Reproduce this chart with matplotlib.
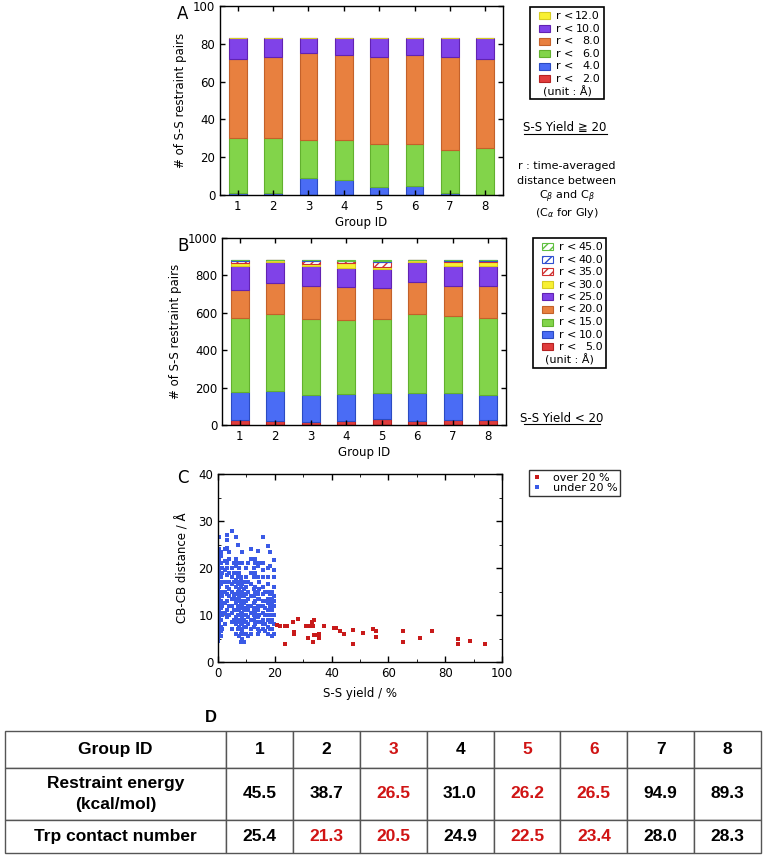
import matplotlib
matplotlib.use("Agg")
import matplotlib.pyplot as plt
from matplotlib.patches import Rectangle
from matplotlib.lines import Line2D

plt.rcParams['font.family'] = ['DejaVu Sans', 'Noto Sans CJK JP']

W, H = 765, 855

groups = [1, 2, 3, 4, 5, 6, 7, 8]

# Panel A: S-S yield >= 20 (bottom to top)
a_labels = ["2.0", "4.0", "6.0", "8.0", "10.0", "12.0"]
a_r2 = [0, 0, 0, 0, 0, 0, 0, 0]
a_r4 = [1, 1, 9, 8, 4, 5, 1, 0]
a_r6 = [29, 29, 20, 21, 23, 22, 23, 25]
a_r8 = [42, 43, 46, 45, 46, 47, 49, 47]
a_r10 = [11, 10, 8, 9, 10, 9, 10, 11]
a_r12 = [0, 0, 0, 0, 0, 0, 0, 0]

# Panel B: S-S yield < 20 (bottom to top)
b_labels = ["5.0", "10.0", "15.0", "20.0", "25.0", "30.0", "35.0", "40.0", "45.0"]
b_r5 = [28, 20, 18, 22, 30, 20, 27, 28]
b_r10 = [148, 161, 145, 146, 140, 150, 143, 132]
b_r15 = [398, 411, 406, 392, 399, 426, 415, 411]
b_r20 = [149, 169, 176, 176, 161, 170, 158, 170]
b_r25 = [128, 108, 106, 106, 103, 106, 106, 110]
b_r30 = [17, 11, 9, 23, 12, 8, 23, 21]
b_r35 = [10, 3, 18, 12, 28, 3, 6, 6]
b_r40 = [5, 0, 3, 2, 3, 0, 2, 2]
b_r45 = [0, 2, 2, 4, 4, 2, 2, 2]

# Panel C: red = yield over 20 %, blue = under 20 %
red_x = [20.8, 21.7, 23.5, 24.3, 23.6, 26.5, 26.7, 26.6, 28.3, 31.0, 32.2, 31.8, 33.0,
         33.8, 33.4, 33.8, 33.6, 34.8, 35.4, 35.4, 37.4, 40.7, 41.6, 42.8, 44.3, 47.6,
         47.5, 51.1, 54.6, 55.8, 55.8, 65.1, 65.1, 71.1, 75.5, 84.4, 84.4, 88.6, 93.9]
red_y = [7.9, 7.6, 7.6, 7.6, 3.9, 8.5, 6.4, 6.0, 9.2, 7.6, 7.6, 5.1, 8.6,
         8.9, 7.6, 5.7, 4.3, 5.8, 5.1, 6.0, 7.7, 7.2, 7.3, 6.6, 5.9, 6.9,
         3.9, 6.1, 7.0, 6.6, 5.4, 6.6, 4.2, 5.2, 6.6, 4.8, 3.9, 4.4, 3.9]

blue_cols_x = [0, 0.4, 1, 1.5, 2.5, 3.3, 4, 5, 5.5, 6.3, 6.9, 7.5, 8, 8.6, 9.2, 10,
               10.6, 11.6, 12.5, 13.2, 14, 14.6, 15.8, 16.5, 17.6, 18.3, 19, 19.6]
blue_cols_y = [
    [4.5, 5, 5.5, 6, 6.5, 7, 7.5, 8, 8.5, 9, 9.5, 10, 10.5, 11, 11.5, 12, 12.5, 13,
     13.5, 14, 14.5, 15, 15.5, 16, 16.5, 17, 17.5, 18, 18.5, 19, 19.5, 20, 20.5, 21,
     21.5, 22, 22.5, 23, 23.5, 24],
    [6, 8, 9.5, 11, 12, 13.5, 15, 16, 17, 18, 19.5, 20, 22, 24, 26.6],
    [5.5, 6.5, 7.5, 9, 10, 10.5, 11.5, 12.5, 13, 14, 15, 16.5, 17, 18, 19, 20, 21, 22.5, 23.5],
    [7, 10, 12, 14, 17, 19, 20],
    [8, 10.5, 12.5, 15, 17, 19.5, 21.5, 24],
    [9.5, 11, 13, 14.5, 16, 17, 18.5, 20, 21, 24.3, 26, 27],
    [10, 12, 14, 15.5, 17, 19, 22, 23.5],
    [7, 8.5, 10.5, 12, 13.5, 15, 16.5, 18, 20, 27.8],
    [9, 11, 14, 17, 19, 21],
    [6, 8, 9.5, 11, 12.5, 13.5, 14.5, 16, 17.5, 19, 20.5, 22, 26.5],
    [7, 9, 10, 11.5, 12, 13, 15, 16.5, 18, 21, 24.8],
    [5.5, 7.5, 8.5, 10, 11, 12, 13.5, 14, 15.5, 17, 19, 20],
    [4.2, 6, 7, 8, 9, 10.5, 11.5, 12.5, 13, 14.5, 16, 17.5, 18],
    [5, 6.5, 8, 9.5, 10.5, 12, 13, 14, 15, 16.5, 21, 23.5],
    [4.2, 6, 7.5, 9, 10, 11, 12.5, 14, 15.5, 17],
    [6, 7.5, 8.5, 10, 11.5, 13, 14.5, 16, 18, 20],
    [5.5, 8, 9.5, 11, 12, 13.5, 15, 17, 21],
    [6, 7, 9, 10.5, 12, 14, 16.5, 19, 22, 24.1],
    [7.5, 9, 10, 11, 12.5, 14, 15.5, 18, 20],
    [8, 9.5, 10.5, 11.5, 13, 15, 16, 19, 21, 22],
    [6, 7, 8.5, 9.5, 10, 11, 12, 13.5, 14.5, 15, 18, 20.5, 23.6],
    [6.5, 8.5, 10, 12, 13.5, 15.5, 17, 21],
    [7, 8, 9, 10.5, 12, 13, 14.5, 16, 18, 19.5, 21, 26.6],
    [6.5, 8, 10, 11.5, 13, 15],
    [6, 7.5, 9, 10, 11, 12.5, 13.5, 15, 16.5, 18, 20, 24.6],
    [7, 8.5, 10, 12, 13, 14.5, 15, 20.5, 23.4],
    [5.5, 7, 9, 11, 12.5, 13.5, 15],
    [6, 8, 10, 12, 13, 14, 16, 18, 19.5, 21.6],
]

# Panel D table
table_header = ["Group ID", "1", "2", "3", "4", "5", "6", "7", "8"]
energy = ["45.5", "38.7", "26.5", "31.0", "26.2", "26.5", "94.9", "89.3"]
trp = ["25.4", "21.3", "20.5", "24.9", "22.5", "23.4", "28.0", "28.3"]
header_red = [3, 5, 6]
energy_red = [3, 5, 6]
trp_red = [2, 3, 5, 6]

# styles: (face, edge, hatch)
RED = ('#e03c3c', '#b52222', None)
BLUE = ('#4a6cf5', '#2b4bc2', None)
GREEN = ('#82d44a', '#62b02e', None)
ORANGE = ('#e8803f', '#c3612a', None)
PURPLE = ('#8042e8', '#6222b2', None)
YELLOW = ('#f8f032', '#d6cc22', None)
H_RED = ('white', '#d03030', '////')
H_BLUE = ('white', '#3050d0', '////')
H_GREEN = ('white', '#60c040', '////')

LEG_FS = 8


def fx(px):
    return px / W


def fy(py):
    return 1 - py / H


def px_axes(l, t, r, b):
    return fig.add_axes([fx(l), fy(b), (r - l) / W, (b - t) / H])


def stack(ax, series, styles):
    bottom = [0] * len(groups)
    for vals, (fc, ec, hatch) in zip(series, styles):
        ax.bar(groups, vals, 0.5, bottom=bottom, color=fc, edgecolor=ec,
               linewidth=0.8, hatch=hatch)
        bottom = [b + v for b, v in zip(bottom, vals)]


def style_axes(ax):
    ax.tick_params(direction='in', top=True, right=True, length=3.5, labelsize=8.5,
                   width=1)
    ax.tick_params(which='minor', direction='in', top=True, right=True, length=2.5)
    for s in ax.spines.values():
        s.set_linewidth(1)


def legend_box(l, t, r, b, rows, row_h, px0, px1, tx, nx):
    fig.patches.append(Rectangle((fx(l), fy(b)), (r - l) / W, (b - t) / H,
                                 transform=fig.transFigure, fill=False,
                                 edgecolor='black', linewidth=1.2))
    y = t + 9
    for style, lab in rows:
        fc, ec, hatch = style
        fig.patches.append(Rectangle((fx(px0), fy(y + 3.5)), (px1 - px0) / W, 7 / H,
                                     transform=fig.transFigure, facecolor=fc,
                                     edgecolor=ec, hatch=hatch, linewidth=0.8))
        fig.text(fx(tx), fy(y), "r <", fontsize=LEG_FS, va='center', ha='left')
        fig.text(fx(nx), fy(y), lab, fontsize=LEG_FS, va='center', ha='right')
        y += row_h
    fig.text(fx((l + r) / 2), fy(y), "(unit : Å)", fontsize=LEG_FS, va='center',
             ha='center')


fig = plt.figure(figsize=(W / 100, H / 100), dpi=100)

# ---- A ----
axA = px_axes(220, 6, 503, 195)
stack(axA, [a_r2, a_r4, a_r6, a_r8, a_r10, a_r12],
      [RED, BLUE, GREEN, ORANGE, PURPLE, YELLOW])
axA.set_xlim(0.5, 8.5)
axA.set_ylim(0, 100)
axA.set_xticks(groups)
axA.set_yticks(range(0, 101, 20))
axA.set_xlabel("Group ID", fontsize=8.5, labelpad=2)
axA.set_ylabel("# of S-S restraint pairs", fontsize=8.5, labelpad=4)
style_axes(axA)
fig.text(fx(183), fy(14), "A", fontsize=12, va='center', ha='center')

legend_box(530, 7, 604, 99,
           list(zip([YELLOW, PURPLE, ORANGE, GREEN, BLUE, RED], a_labels[::-1])),
           12.6, 539, 550, 556, 600)
fig.text(fx(565), fy(128), "S-S Yield ≧ 20", fontsize=8.5, ha='center', va='center')
fig.add_artist(Line2D([fx(524), fx(607)], [fy(134), fy(134)], color='black',
                      linewidth=0.8, transform=fig.transFigure))
note_lines = ["r : time-averaged", "distance between",
              "C$_\\beta$ and C$_\\beta$", "(C$_\\alpha$ for Gly)"]
for i, line in enumerate(note_lines):
    fig.text(fx(567), fy(166 + 15.5 * i), line, fontsize=8, ha='center',
             va='center')

# ---- B ----
axB = px_axes(222, 238, 506, 425)
stack(axB, [b_r5, b_r10, b_r15, b_r20, b_r25, b_r30, b_r35, b_r40, b_r45],
      [RED, BLUE, GREEN, ORANGE, PURPLE, YELLOW, H_RED, H_BLUE, H_GREEN])
axB.set_xlim(0.5, 8.5)
axB.set_ylim(0, 1000)
axB.set_xticks(groups)
axB.set_yticks(range(0, 1001, 200))
axB.set_xlabel("Group ID", fontsize=8.5, labelpad=2)
axB.set_ylabel("# of S-S restraint pairs", fontsize=8.5, labelpad=4)
style_axes(axB)
fig.text(fx(183), fy(246), "B", fontsize=12, va='center', ha='center')

legend_box(533, 238, 606, 368,
           list(zip([H_GREEN, H_BLUE, H_RED, YELLOW, PURPLE, ORANGE, GREEN, BLUE, RED],
                    b_labels[::-1])),
           12.5, 542, 553, 559, 603)
fig.text(fx(562), fy(418), "S-S Yield < 20", fontsize=8.5, ha='center', va='center')
fig.add_artist(Line2D([fx(524), fx(600)], [fy(424), fy(424)], color='black',
                      linewidth=0.8, transform=fig.transFigure))

# ---- C ----
axC = px_axes(218, 474, 502, 662)
bx, by = [], []
for x, ys in zip(blue_cols_x, blue_cols_y):
    for y in ys:
        bx.append(x)
        by.append(y)
axC.plot(bx, by, 's', color='#3a5ae6', markersize=2.6, markeredgewidth=0,
         label="under 20 %")
axC.plot(red_x, red_y, 's', color='#c81a1a', markersize=2.6, markeredgewidth=0,
         label="over 20 %")
axC.set_xlim(0, 100)
axC.set_ylim(0, 40)
axC.set_xticks(range(0, 101, 20))
axC.set_xticks(range(0, 101, 10), minor=True)
axC.set_yticks(range(0, 41, 10))
axC.set_yticks(range(0, 41, 5), minor=True)
axC.set_xlabel("S-S yield / %", fontsize=8.5, labelpad=5)
axC.set_ylabel("CB-CB distance / Å", fontsize=8.5, labelpad=6)
style_axes(axC)
axC.tick_params(which='major', length=4)
fig.text(fx(183), fy(478), "C", fontsize=12, va='center', ha='center')

handles, labels = axC.get_legend_handles_labels()
fig.legend(handles[::-1], labels[::-1], loc='upper left',
           bbox_to_anchor=(fx(529), fy(470)), fontsize=8, frameon=True,
           fancybox=False, edgecolor='black', handlelength=1.0, handletextpad=0.9,
           borderpad=0.25, labelspacing=0.05, markerscale=0.9, borderaxespad=0)

# ---- D ----
fig.text(fx(211), fy(717), "D", fontsize=12, fontweight='bold', ha='center',
         va='center', family='Liberation Sans')
axD = px_axes(5, 731, 761, 853)
axD.axis('off')
cells = [table_header, ["Restraint energy\n(kcal/mol)"] + energy,
         ["Trp contact number"] + trp]
first_w = 221 / 756
col_w = [first_w] + [(1 - first_w) / 8] * 8
tbl = axD.table(cellText=cells, cellLoc='center', colWidths=col_w,
                bbox=[0, 0, 1, 1])
tbl.auto_set_font_size(False)
row_h = [37, 52, 33]
red_cols = [header_red, energy_red, trp_red]
for (r, c), cell in tbl.get_celld().items():
    cell.set_height(row_h[r] / sum(row_h))
    cell.set_edgecolor('#555555')
    cell.set_linewidth(1)
    txt = cell.get_text()
    txt.set_fontsize(12.5)
    txt.set_fontweight('bold')
    txt.set_fontfamily('Liberation Sans')
    txt.set_linespacing(1.5)
    if c > 0 and c in red_cols[r]:
        txt.set_color('#d01414')

fig.savefig("out.png", dpi=100)
